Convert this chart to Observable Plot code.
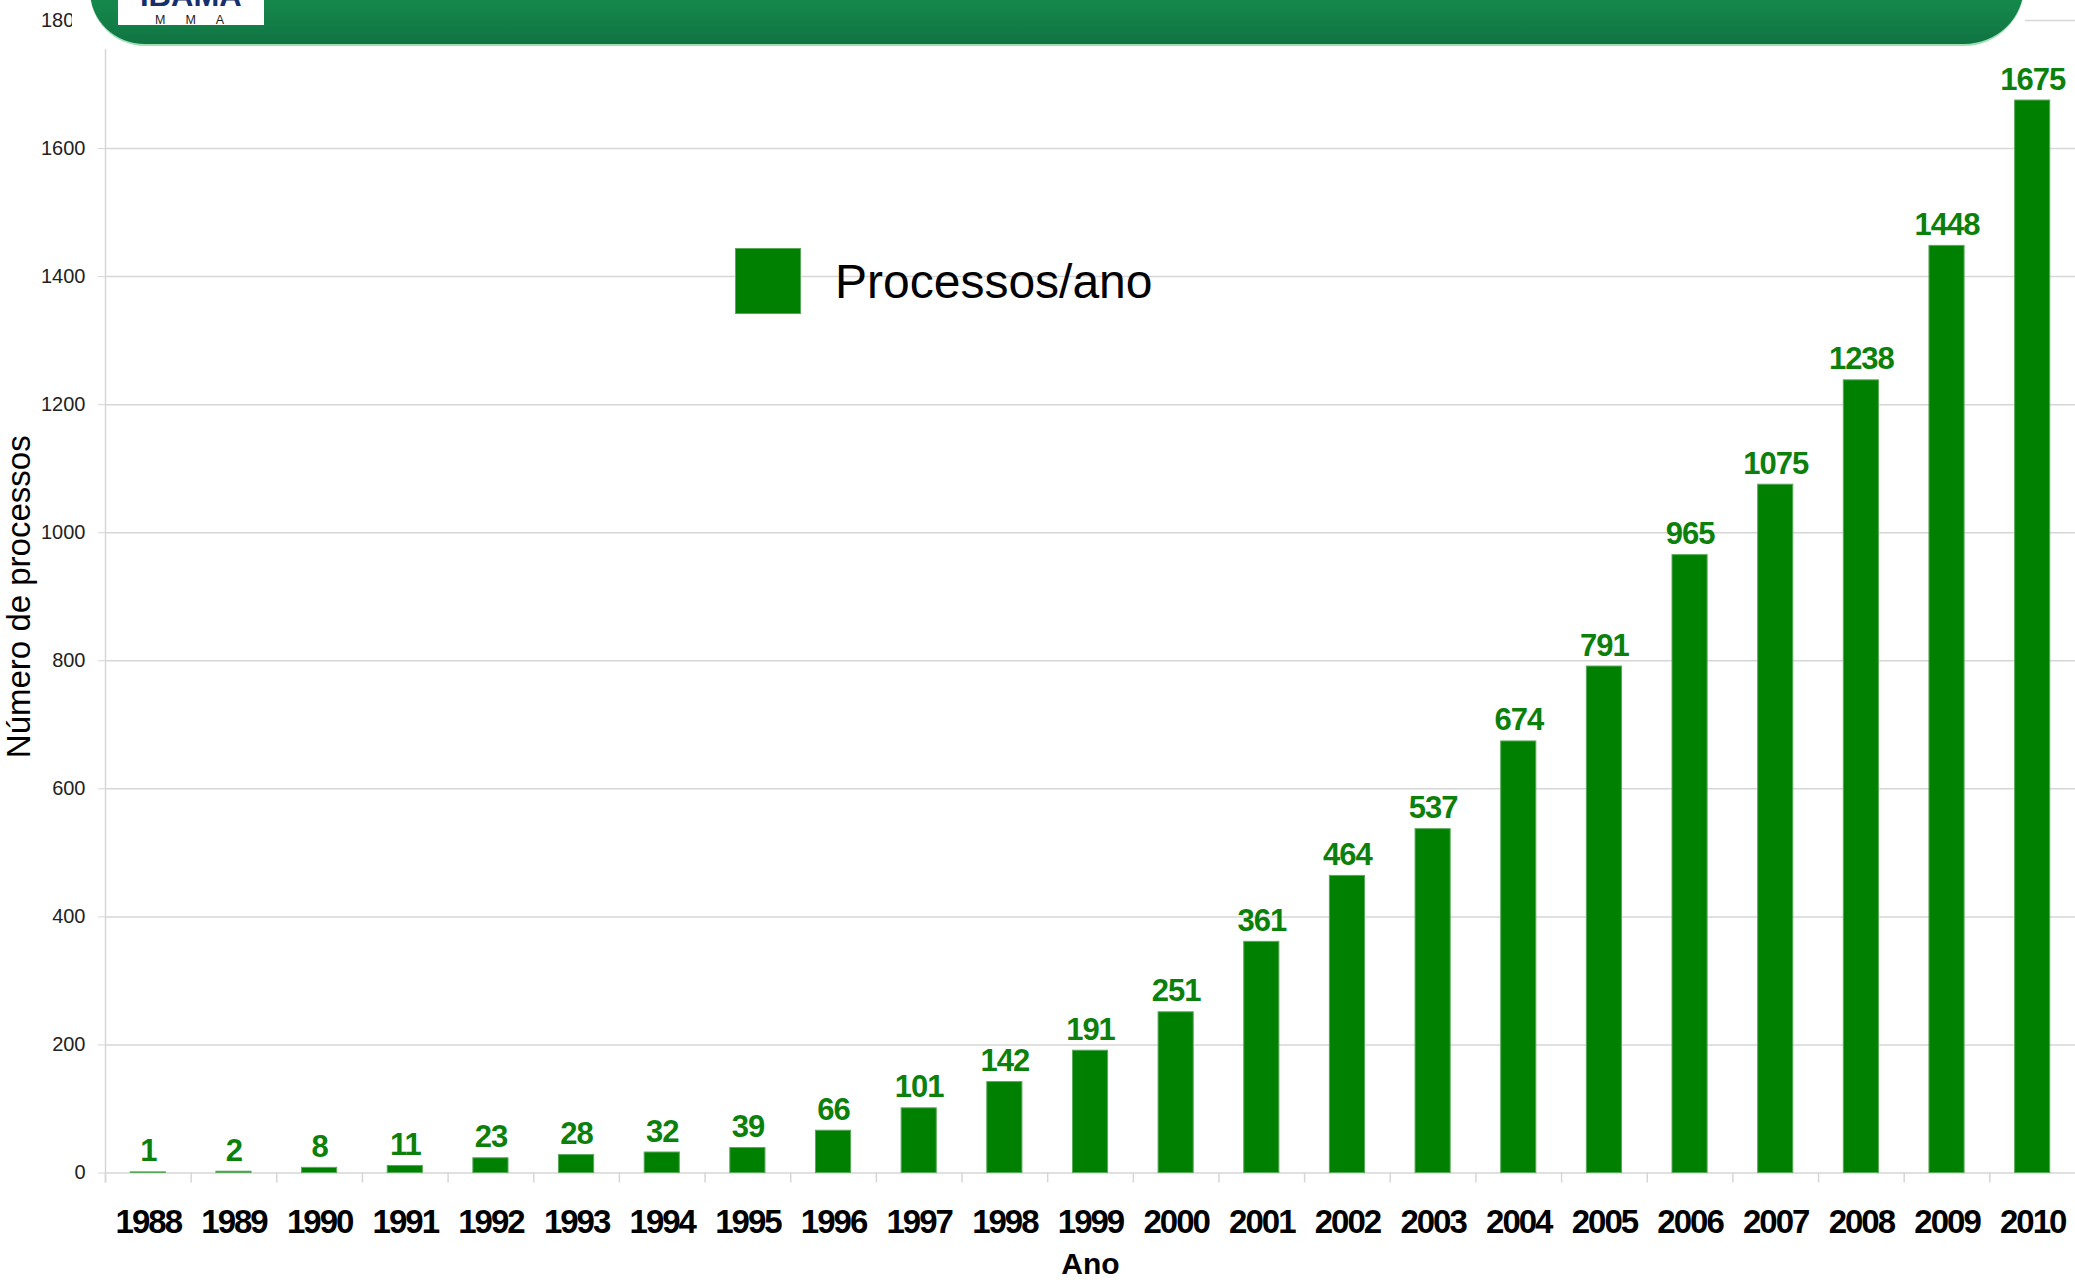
<!DOCTYPE html>
<html>
<head>
<meta charset="utf-8">
<script src="https://cdn.jsdelivr.net/npm/d3@7"></script>
<script src="https://cdn.jsdelivr.net/npm/@observablehq/plot@0.6"></script>
<style>
  html, body { margin: 0; padding: 0; background: #fff; overflow: hidden; }
  #wrap { position: relative; width: 2075px; height: 1282px; font-family: "Liberation Sans", Arial, sans-serif; }
  #chart { position: absolute; left: 0; top: 0; }
  #halo { position: absolute; left: 72px; top: 0; width: 1953px; height: 49px; background: #fff; }
  #banner { position: absolute; left: 90px; top: -20px; width: 1934px; height: 64px;
            background: linear-gradient(180deg, #1a8e4e 0%, #15854a 45%, #0f7442 100%);
            border-bottom: 2px solid #9ee0b4;
            border-bottom-left-radius: 55px; border-bottom-right-radius: 60px; }
  #logo { position: absolute; left: 118px; top: 0; width: 146px; height: 25px; background: #fff; overflow: visible; }
  #logo svg { overflow: visible; display: block; }
  #legend { position: absolute; left: 735px; top: 248px; height: 66px; display: flex; align-items: center; }
  #legend .sw { width: 66px; height: 66px; background: #008000; box-sizing: border-box; border: 1px solid #5aa85a; }
  #legend .lb { margin-left: 34px; font-size: 48px; color: #000; font-family: "Liberation Sans", Arial, sans-serif; }
  svg g[aria-label="x-axis tick label"] text { letter-spacing: -2px; }
  svg g[aria-label="text"].vals text { letter-spacing: -1px; }
</style>
</head>
<body>
<div id="wrap">
  <div id="chart"></div>
  <div id="halo"></div>
  <div id="banner"></div>
  <div id="logo">
    <svg width="146" height="25">
      <text x="22" y="6" font-family="Liberation Sans, Arial, sans-serif" font-weight="bold" font-size="31" fill="#14306e">IBAMA</text>
      <text x="37" y="23.5" font-family="Liberation Sans, Arial, sans-serif" font-size="12.5" letter-spacing="20" fill="#222">MMA</text>
    </svg>
  </div>
  <div id="legend"><div class="sw"></div><div class="lb">Processos/ano</div></div>
</div>
<script>
const years = ["1988","1989","1990","1991","1992","1993","1994","1995","1996","1997","1998","1999",
               "2000","2001","2002","2003","2004","2005","2006","2007","2008","2009","2010"];
const counts = [1, 2, 8, 11, 23, 28, 32, 39, 66, 101, 142, 191, 251, 361, 464, 537, 674, 791, 965, 1075, 1238, 1448, 1675];
const yTicks = [0, 200, 400, 600, 800, 1000, 1200, 1400, 1600, 1800];
const xTitle = "Ano";
const yTitle = "Número de processos";

const data = years.map((year, i) => ({year, count: counts[i]}));

const W = 2075, H = 1282, mL = 105, mR = 0, mT = 20, mB = 109.5;
const step = (W - mL - mR) / years.length;
const grey = "#d6d6d6";

const chart = Plot.plot({
  width: W, height: H,
  marginLeft: mL, marginRight: mR, marginTop: mT, marginBottom: mB,
  style: {fontFamily: "Liberation Sans, Arial, sans-serif", background: "transparent", color: "#000"},
  x: {domain: years, paddingInner: 0.59, paddingOuter: 0.295, round: false, label: null},
  y: {domain: [yTicks[0], yTicks[yTicks.length - 1]], label: null},
  marks: [
    Plot.gridY(yTicks, {stroke: grey, strokeOpacity: 1, strokeWidth: 1.5}),
    Plot.ruleX([years[0]], {dx: -step / 2, stroke: grey, strokeWidth: 1.5, insetBottom: -10}),
    Plot.ruleX(years, {dx: -step / 2, y1: yTicks[0], y2: yTicks[0], insetBottom: -10, stroke: grey, strokeWidth: 1.5}),
    Plot.axisY(yTicks, {tickSize: 7, tickPadding: 13, fontSize: 20, stroke: grey, fill: "#222",
                        tickFormat: d => String(d), label: null}),
    Plot.axisX({tickSize: 0, tickPadding: 36.5, fontSize: 33, fontWeight: "bold", fill: "#000", label: null}),
    Plot.barY(data, {x: "year", y: "count", fill: "#008000", stroke: "#5aa85a", strokeWidth: 1}),
    Plot.text(data, {x: "year", y: "count", text: d => String(d.count), dy: -11, lineAnchor: "bottom",
                     fill: "#0b800b", fontSize: 31, fontWeight: "bold", className: "vals"}),
    Plot.text([xTitle], {frameAnchor: "bottom", dy: 101, fontSize: 30, fontWeight: "bold", fill: "#000"}),
    Plot.text([yTitle], {frameAnchor: "left", textAnchor: "middle", rotate: -90, dx: -86.5, fontSize: 33, fill: "#000"})
  ]
});
document.getElementById("chart").appendChild(chart);
</script>
</body>
</html>
